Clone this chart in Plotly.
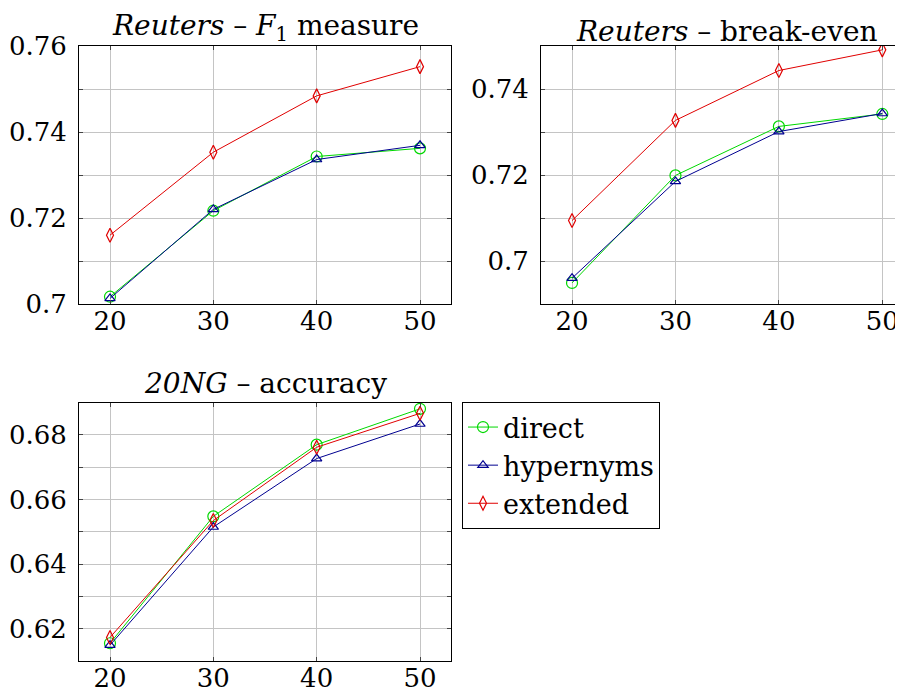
import plotly.graph_objects as go

budget = [20, 30, 40, 50]
x_tick_labels = ["20", "30", "40", "50"]

reuters_f1_direct = [0.7017, 0.7217, 0.7343, 0.7362]
reuters_f1_hyper = [0.7013, 0.7220, 0.7336, 0.7369]
reuters_f1_ext = [0.7160, 0.7353, 0.7484, 0.7552]

reuters_be_direct = [0.6949, 0.7199, 0.7313, 0.7342]
reuters_be_hyper = [0.6960, 0.7185, 0.7301, 0.7343]
reuters_be_ext = [0.7094, 0.7327, 0.7443, 0.7491]

ng_direct = [0.6155, 0.6548, 0.6770, 0.6881]
ng_hyper = [0.6149, 0.6515, 0.6727, 0.6834]
ng_ext = [0.6173, 0.6535, 0.6762, 0.6867]

series_names = ["direct", "hypernyms", "extended"]

y1_vals = [0.70, 0.71, 0.72, 0.73, 0.74, 0.75, 0.76]
y1_text = ["0.7", "", "0.72", "", "0.74", "", "0.76"]
y2_vals = [0.69, 0.70, 0.71, 0.72, 0.73, 0.74, 0.75]
y2_text = ["", "0.7", "", "0.72", "", "0.74", ""]
y3_vals = [0.61, 0.62, 0.63, 0.64, 0.65, 0.66, 0.67, 0.68, 0.69]
y3_text = ["", "0.62", "", "0.64", "", "0.66", "", "0.68", ""]

FONT = "DejaVu Serif, Liberation Serif, serif"
FS = 26
colors = {"direct": "#00d800", "hypernyms": "#000090", "extended": "#e00000"}
symbols = {"direct": ("circle-open", 11), "hypernyms": ("triangle-up-open", 9),
           "extended": ("diamond-tall-open", 10)}

# page body has an 8px margin, so the figure is laid out 8px smaller
OFF = 8
W, H = 903 - OFF, 694 - OFF
fig = go.Figure()

panels = [
    ("x", "y", [reuters_f1_direct, reuters_f1_hyper, reuters_f1_ext], True),
    ("x2", "y2", [reuters_be_direct, reuters_be_hyper, reuters_be_ext], False),
    ("x3", "y3", [ng_direct, ng_hyper, ng_ext], False),
]
for xa, ya, data, show in panels:
    for name, vals in zip(series_names, data):
        sym, sz = symbols[name]
        fig.add_trace(go.Scatter(
            x=budget, y=vals, mode="lines+markers", name=name,
            xaxis=xa, yaxis=ya, showlegend=show, legendgroup=name,
            line=dict(color=colors[name], width=1),
            marker=dict(symbol=sym, size=sz, color=colors[name],
                        line=dict(color=colors[name], width=1.2)),
        ))

common = dict(showgrid=True, gridcolor="#c4c4c4", gridwidth=1,
              showline=True, linecolor="black", linewidth=1, mirror="allticks",
              ticks="inside", ticklen=4, tickcolor="#444", automargin=False,
              zeroline=False, tickfont=dict(family=FONT, size=FS, color="black"))

def xaxis(domain, anchor, rng):
    return dict(domain=domain, anchor=anchor, range=rng, ticklabelstandoff=-6,
                tickvals=budget, ticktext=x_tick_labels, **common)

def yaxis(domain, anchor, rng, vals, text):
    return dict(domain=domain, anchor=anchor, range=rng,
                tickvals=vals, ticktext=text, ticklabelstandoff=6, **common)

def px_x(p):
    return (p - OFF) / W

def px_y(p):
    return 1 - (p - OFF) / H

x_left = [px_x(79), px_x(451)]
x_right = [px_x(541), 1.0]
y_top = [px_y(304), px_y(46)]
y_bot = [px_y(661), px_y(402.7)]

fig.update_layout(
    width=W, height=H,
    margin=dict(l=0, r=0, t=0, b=0),
    paper_bgcolor="white", plot_bgcolor="white",
    xaxis=xaxis(x_left, "y", [17, 53]),
    yaxis=yaxis(y_top, "x", [0.70, 0.76], y1_vals, y1_text),
    xaxis2=xaxis(x_right, "y2", [17, 52.0]),
    yaxis2=yaxis(y_top, "x2", [0.69, 0.75], y2_vals, y2_text),
    xaxis3=xaxis(x_left, "y3", [17, 53]),
    yaxis3=yaxis(y_bot, "x3", [0.61, 0.69], y3_vals, y3_text),
    legend=dict(x=px_x(462), y=px_y(402), xanchor="left", yanchor="top",
                bordercolor="black", borderwidth=1, bgcolor="white",
                font=dict(family=FONT, size=FS + 1, color="black"),
                entrywidth=200, entrywidthmode="pixels",
                tracegroupgap=0),
    showlegend=True,
)

titles = [
    (265, 27, "<i>Reuters</i> – <i>F</i><sub>1</sub> measure"),
    (727, 31, "<i>Reuters</i> – break-even"),
    (265, 383, "<i>20NG</i> – accuracy"),
]
for cx, cy, t in titles:
    fig.add_annotation(x=px_x(cx), y=px_y(cy), xref="paper", yref="paper",
                       text=t, showarrow=False, xanchor="center", yanchor="middle",
                       font=dict(family=FONT, size=FS + 2, color="black"))

fig.write_html("out.html")
